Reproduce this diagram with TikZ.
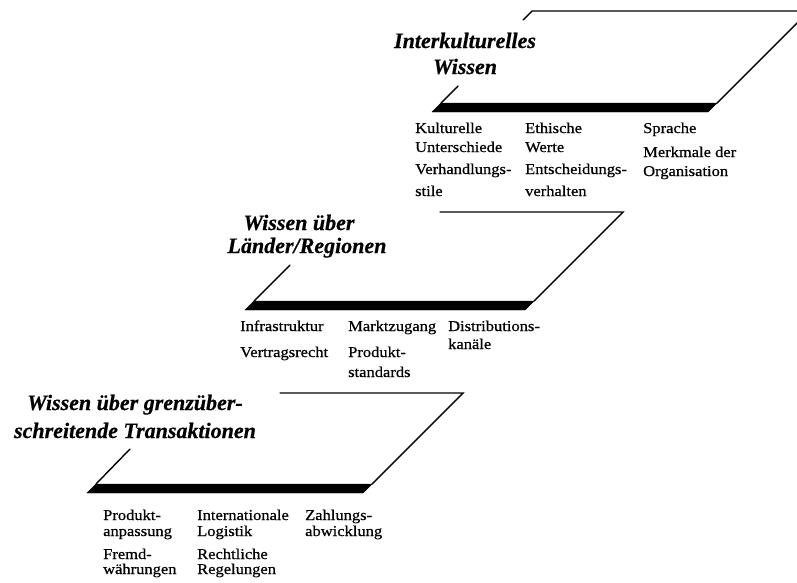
\documentclass[tikz,border=0pt]{standalone}
\usepackage{fontspec}
\setmainfont{Liberation Serif}
\newfontfamily\labfont[FakeStretch=1.1,FakeBold=0.6]{Liberation Serif}
\newfontfamily\titfont[FakeBold=0.5]{Liberation Serif}
\begin{document}
\begin{tikzpicture}[x=1pt,y=-1pt,
  edge/.style={line width=1.4pt,line cap=round},
  bar/.style={fill=black,draw=black,line width=0.4pt,line join=miter},
  lab/.style={anchor=base west,inner sep=0pt,font=\labfont\fontsize{15}{19}\selectfont},
  tit/.style={anchor=base,inner sep=0pt,font=\titfont\bfseries\itshape\fontsize{22}{26}\selectfont}]
\useasboundingbox[fill=white] (0,0) rectangle (797,582);

% ---------- top plane ----------
\coordinate (t-tl) at (532,11);
\coordinate (t-tls) at (523,20);
\coordinate (t-tr) at (809,11);
\coordinate (t-l1) at (458,86);
\coordinate (t-bl) at (432,112);
\coordinate (t-blu) at (441,103);
\coordinate (t-bru) at (717,103);
\coordinate (t-br) at (708,112);
\draw[edge] (t-tls) -- (t-tl) -- (t-tr);
\draw[edge] (t-tr) -- (t-bru);
\draw[edge] (t-l1) -- (t-blu);
\fill[bar] (t-bl) -- (t-blu) -- (t-bru) -- (t-br) -- cycle;

\node[tit] (t-title1) at (465,48) {Interkulturelles};
\node[tit] (t-title2) at (465,74) {Wissen};

\node[lab] (t-a1) at (415,133) {Kulturelle};
\node[lab] (t-a2) at (415,152) {Unterschiede};
\node[lab] (t-a3) at (415,174) {Verhandlungs-};
\node[lab] (t-a4) at (415,196) {stile};
\node[lab] (t-b1) at (525,133) {Ethische};
\node[lab] (t-b2) at (525,152) {Werte};
\node[lab] (t-b3) at (525,174) {Entscheidungs-};
\node[lab] (t-b4) at (525,196) {verhalten};
\node[lab] (t-c1) at (643,133) {Sprache};
\node[lab] (t-c2) at (643,157) {Merkmale der};
\node[lab] (t-c3) at (643,176) {Organisation};

% ---------- middle plane ----------
\coordinate (m-ts) at (440,212);
\coordinate (m-tr) at (623,212);
\coordinate (m-l1) at (290,265);
\coordinate (m-bl) at (245,310);
\coordinate (m-blu) at (254,301);
\coordinate (m-bru) at (534,301);
\coordinate (m-br) at (525,310);
\draw[edge] (m-ts) -- (m-tr) -- (m-bru);
\draw[edge] (m-l1) -- (m-blu);
\fill[bar] (m-bl) -- (m-blu) -- (m-bru) -- (m-br) -- cycle;

\node[tit] (m-title1) at (299,230) {Wissen über};
\node[tit] (m-title2) at (307,253) {Länder/Regionen};

\node[lab] (m-a1) at (240,331) {Infrastruktur};
\node[lab] (m-a2) at (240,357) {Vertragsrecht};
\node[lab] (m-b1) at (348,331) {Marktzugang};
\node[lab] (m-b2) at (348,357) {Produkt-};
\node[lab] (m-b3) at (348,377) {standards};
\node[lab] (m-c1) at (448,331) {Distributions-};
\node[lab] (m-c2) at (448,349) {kanäle};

% ---------- bottom plane ----------
\coordinate (b-ts) at (280,393);
\coordinate (b-tr) at (463,393);
\coordinate (b-l1) at (130,449);
\coordinate (b-bl) at (87,493);
\coordinate (b-blu) at (96,484);
\coordinate (b-bru) at (372,484);
\coordinate (b-br) at (363,493);
\draw[edge] (b-ts) -- (b-tr) -- (b-bru);
\draw[edge] (b-l1) -- (b-blu);
\fill[bar] (b-bl) -- (b-blu) -- (b-bru) -- (b-br) -- cycle;

\node[tit] (b-title1) at (135,410) {Wissen über grenzüber-};
\node[tit] (b-title2) at (135,438) {schreitende Transaktionen};

\node[lab] (b-a1) at (103,520) {Produkt-};
\node[lab] (b-a2) at (103,536) {anpassung};
\node[lab] (b-a3) at (103,559) {Fremd-};
\node[lab] (b-a4) at (103,574) {währungen};
\node[lab] (b-b1) at (197,520) {Internationale};
\node[lab] (b-b2) at (197,536) {Logistik};
\node[lab] (b-b3) at (197,559) {Rechtliche};
\node[lab] (b-b4) at (197,574) {Regelungen};
\node[lab] (b-c1) at (305,520) {Zahlungs-};
\node[lab] (b-c2) at (305,536) {abwicklung};
\end{tikzpicture}
\end{document}
